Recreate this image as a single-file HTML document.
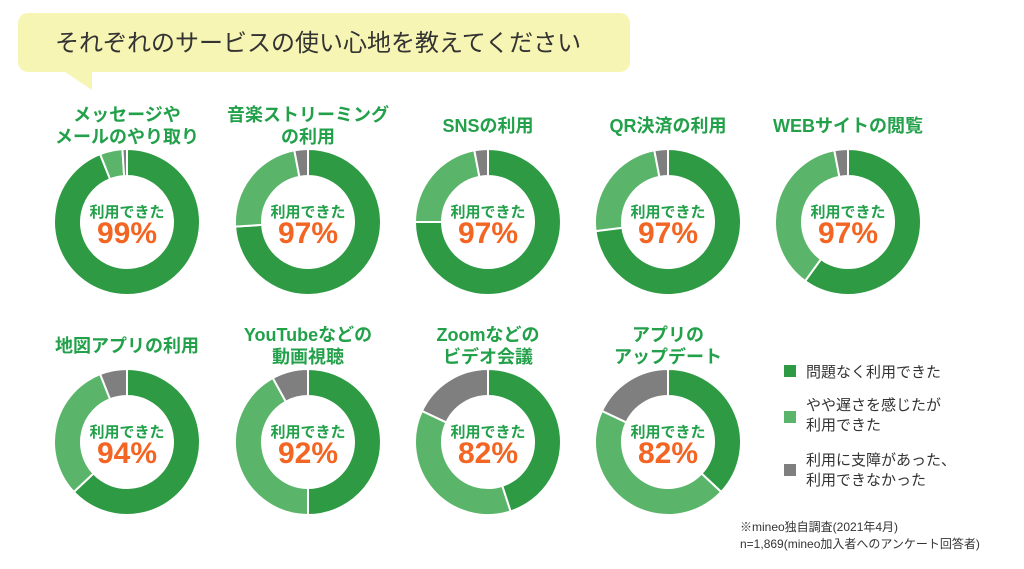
<!DOCTYPE html>
<html><head><meta charset="utf-8">
<style>
body{margin:0;background:#fff;width:1024px;height:569px;overflow:hidden;font-family:"Liberation Sans","Noto Sans CJK JP",sans-serif;}
svg{position:absolute;left:0;top:0}
</style></head><body>
<svg width="1024" height="569">
<rect x="18" y="13" width="612" height="59" rx="10" fill="#f7f5b3"/>
<polygon points="65,72 92,72 92,90" fill="#f7f5b3"/>
<text x="55" y="51" font-size="24" fill="#333" font-family="Liberation Sans,Noto Sans CJK JP,sans-serif">それぞれのサービスの使い心地を教えてください</text>
<g id="donuts"></g>
<g font-size="15" fill="#333">
<rect x="784" y="365" width="12" height="12" fill="#2e9a44"/>
<text x="806" y="377">問題なく利用できた</text>
<rect x="784" y="411" width="12" height="12" fill="#5ab56a"/>
<text x="806" y="410">やや遅さを感じたが</text>
<text x="806" y="430">利用できた</text>
<rect x="784" y="464" width="12" height="12" fill="#7f7f7f"/>
<text x="806" y="465">利用に支障があった、</text>
<text x="806" y="485">利用できなかった</text>
</g>
<text x="740" y="531" font-size="12" fill="#333">※mineo独自調査(2021年4月)</text>
<text x="740" y="548" font-size="12" fill="#333">n=1,869(mineo加入者へのアンケート回答者)</text>
</svg>
<script>
const labels=[["メッセージや","メールのやり取り"],["音楽ストリーミング","の利用"],["SNSの利用"],["QR決済の利用"],["WEBサイトの閲覧"],["地図アプリの利用"],["YouTubeなどの","動画視聴"],["Zoomなどの","ビデオ会議"],["アプリの","アップデート"]];
const okVals=[94,74,75,73,60,63,50,45,37];
const slowVals=[5,23,22,24,37,31,42,37,45];
const failVals=[1,3,3,3,3,6,8,18,18];
const totals=["99%","97%","97%","97%","97%","94%","92%","82%","82%"];
const colors=["#2e9a44","#5ab56a","#7f7f7f"];
const NS="http://www.w3.org/2000/svg";
const g=document.getElementById("donuts");
const R=73,r=46;
function pt(cx,cy,rad,f){const a=f*2*Math.PI;return [cx+rad*Math.sin(a),cy-rad*Math.cos(a)];}
labels.forEach((lab,i)=>{
  const cx=[127,308,488,668,848][i%5], cy=i<5?222:442;
  const vals=[okVals[i],slowVals[i],failVals[i]];
  const sum=vals[0]+vals[1]+vals[2];
  let start=0;
  vals.forEach((v,j)=>{
    const end=start+v/sum;
    const [x1,y1]=pt(cx,cy,R,start),[x2,y2]=pt(cx,cy,R,end),[x3,y3]=pt(cx,cy,r,end),[x4,y4]=pt(cx,cy,r,start);
    const lg=(end-start)>0.5?1:0;
    const p=document.createElementNS(NS,"path");
    p.setAttribute("d",`M${x1},${y1}A${R},${R} 0 ${lg} 1 ${x2},${y2}L${x3},${y3}A${r},${r} 0 ${lg} 0 ${x4},${y4}Z`);
    p.setAttribute("fill",colors[j]);p.setAttribute("stroke","#fff");p.setAttribute("stroke-width","2");
    
    
    g.appendChild(p);start=end;
  });
  lab.forEach((t,k)=>{
    const tx=document.createElementNS(NS,"text");
    const base=lab.length===1?cy-R-17:cy-R-6-(lab.length-1-k)*22;
    tx.setAttribute("x",cx);tx.setAttribute("y",base);tx.setAttribute("text-anchor","middle");
    tx.setAttribute("font-size","18");tx.setAttribute("font-weight","bold");tx.setAttribute("fill","#22a04a");
    tx.textContent=t;
    
    
    g.appendChild(tx);
  });
  const a=document.createElementNS(NS,"text");
  a.setAttribute("x",cx);a.setAttribute("y",cy-5);a.setAttribute("text-anchor","middle");
  a.setAttribute("font-size","15");a.setAttribute("font-weight","bold");a.setAttribute("fill","#22a04a");
  a.textContent="利用できた";
  
  
  g.appendChild(a);
  const b=document.createElementNS(NS,"text");
  b.setAttribute("x",cx);b.setAttribute("y",cy+21);b.setAttribute("text-anchor","middle");
  b.setAttribute("font-size","30");b.setAttribute("font-weight","bold");b.setAttribute("fill","#f26522");
  b.textContent=totals[i];
  
  
  g.appendChild(b);
});
</script>
</body></html>
